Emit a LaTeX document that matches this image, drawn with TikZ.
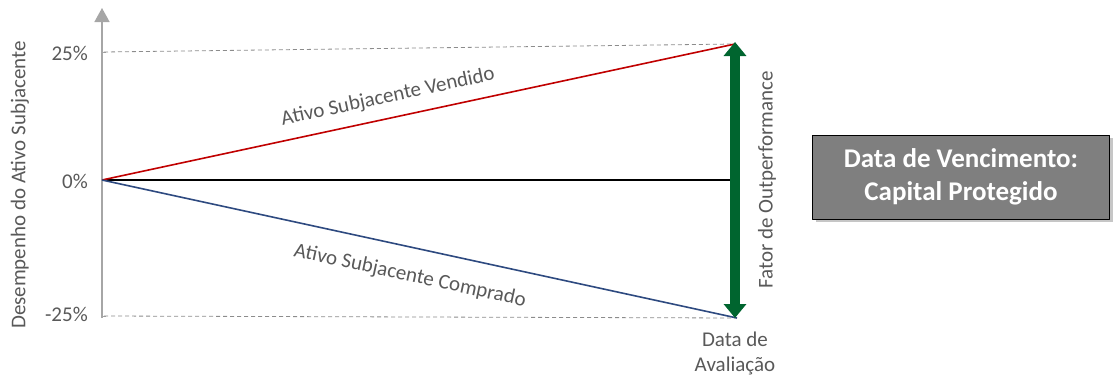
\documentclass[tikz,border=0pt]{standalone}
\usepackage{fontspec}
\setmainfont{Carlito}
\usetikzlibrary{arrows.meta,shadows}

\definecolor{txtgray}{HTML}{595959}
\definecolor{axisgray}{HTML}{A6A6A6}
\definecolor{dashgray}{HTML}{8C8C8C}
\definecolor{vendred}{HTML}{C00000}
\definecolor{compblue}{HTML}{2E4A80}
\definecolor{fatgreen}{HTML}{00652F}
\definecolor{boxgray}{HTML}{7F7F7F}

\tikzset{
  lbl/.style={text=txtgray, inner sep=0pt, font=\fontsize{21}{25}\selectfont},
  guide/.style={dashgray, line width=0.8pt, dash pattern=on 4pt off 3pt},
  perf/.style={line width=1.6pt},
}

\begin{document}
\begin{tikzpicture}[x=1pt, y=-1pt, line join=round]

  %% ════ 坐标 ════
  \coordinate (O)   at (102.0,180.0);
  \coordinate (Top) at (102.0,8.0);
  \coordinate (Bot) at (102.0,318.0);
  \coordinate (Hi)  at (735.0,44.0);
  \coordinate (Lo)  at (737.0,318.0);
  \coordinate (Mid) at (735.0,180.0);

  %% ════ 轴与虚线 ════
  \draw[axisgray, line width=1.6pt, -{Triangle[width=15pt,length=14pt]}] (Bot) -- (Top);
  \draw[axisgray, line width=0.8pt] (102.0,52.0) -- (106.0,52.0);
  \draw[axisgray, line width=0.8pt] (102.0,316.0) -- (106.0,316.0);
  \draw[guide] (104.0,52.0) -- (Hi);
  \draw[guide] (104.0,316.0) -- (Lo);

  %% ════ 三条表现线 ════
  \draw[perf, black] (O) -- (Mid);
  \draw[perf, vendred] (O) -- (Hi);
  \draw[perf, compblue] (O) -- (Lo);

  %% ════ 绿色双向箭头 ════
  \draw[fatgreen, line width=10pt,
        {Triangle[width=22pt,length=14pt]}-{Triangle[width=22pt,length=14pt]}]
        (735.0,42.0) -- (735.0,318.0);

  %% ════ 标签 ════
  \node[lbl, anchor=east] (p25) at (88.0,53.0) {25\%};
  \node[lbl, anchor=east] (p0)  at (88.0,181.0) {0\%};
  \node[lbl, anchor=east] (m25) at (88.0,314.0) {-25\%};
  \node[lbl, rotate=90] (yax) at (20.0,185.0) {Desempenho do Ativo Subjacente};
  \node[lbl, rotate=12.1] (vend) at (388.0,97.0) {Ativo Subjacente Vendido};
  \node[lbl, rotate=-12.2] (comp) at (410.0,276.0) {Ativo Subjacente Comprado};
  \node[lbl, rotate=90] (fator) at (767.0,180.0) {Fator de Outperformance};
  \node[lbl, align=center] (aval) at (735.0,353.0) {Data de\\Avaliação};

  %% ════ 右侧方框 ════
  \node[draw=black, line width=1pt, fill=boxgray, text=white, align=center,
        minimum width=297pt, minimum height=84pt, inner sep=0pt,
        drop shadow={opacity=0.45, shadow xshift=3pt, shadow yshift=-3pt},
        font=\bfseries\fontsize{27}{33}\selectfont] (venc) at (961.0,177.0)
        {Data de Vencimento:\\Capital Protegido};

  \pgfresetboundingbox
  \path[use as bounding box] (0,0) rectangle (1113,380);
\end{tikzpicture}
\end{document}
